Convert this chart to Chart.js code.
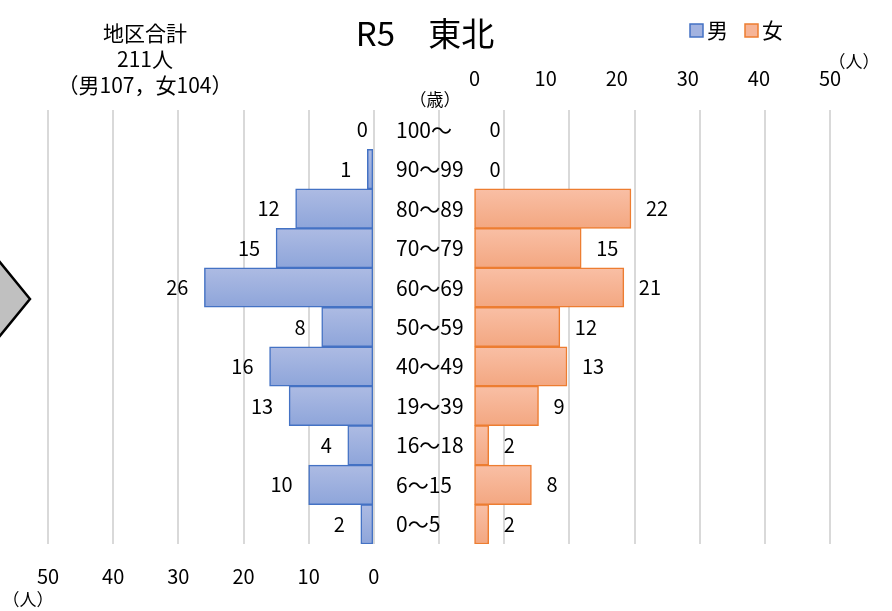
<!DOCTYPE html>
<html>
<head>
<meta charset="utf-8">
<script src="https://cdn.jsdelivr.net/npm/chart.js@4/dist/chart.umd.min.js"></script>
<style>
  html, body { margin: 0; padding: 0; background: #fff; }
  #wrap { width: 892px; height: 611px; }
</style>
</head>
<body>
<div id="wrap"><canvas id="pyramid" width="892" height="611"></canvas></div>
<script>
// age groups, top to bottom
const ageGroups = ["100～", "90～99", "80～89", "70～79", "60～69", "50～59", "40～49", "19～39", "16～18", "6～15", "0～5"];
const male   = [0, 1, 12, 15, 26, 8, 16, 13, 4, 10, 2];
const female = [0, 0, 22, 15, 21, 12, 13, 9, 2, 8, 2];
const axisTicks = [0, 10, 20, 30, 40, 50];

const FONT = "'Noto Sans CJK JP', 'Noto Sans', sans-serif";

// vertical gradient inside each bar
function barGradient(top, bottom) {
  return (c) => {
    const chart = c.chart;
    const y = chart.scales.y;
    if (!y || c.dataIndex === undefined) return top;
    const mid = y.getPixelForValue(c.dataIndex);
    const half = y.height / ageGroups.length / 2;
    if (!isFinite(mid) || !isFinite(half) || half <= 0) return top;
    const g = chart.ctx.createLinearGradient(0, mid - half, 0, mid + half);
    g.addColorStop(0, top);
    g.addColorStop(1, bottom);
    return g;
  };
}

// ===============================
// texts, legend, labels
// ===============================
const decorations = {
  id: "decorations",
  afterDatasetsDraw(chart) {
    const ctx = chart.ctx;
    const y = chart.scales.y;
    ctx.save();
    ctx.fillStyle = "#000";
    ctx.textBaseline = "middle";

    // category labels in the middle
    ctx.font = "21px " + FONT;
    ctx.textAlign = "left";
    ageGroups.forEach((g, i) => ctx.fillText(g, 396, y.getPixelForValue(i)));

    // value labels
    ctx.font = "20px " + FONT;
    chart.getDatasetMeta(0).data.forEach((bar, i) => {
      ctx.textAlign = "right";
      ctx.fillText(String(male[i]), bar.x - (male[i] > 0 ? 16 : 6), bar.y);
    });
    chart.getDatasetMeta(1).data.forEach((bar, i) => {
      ctx.textAlign = "left";
      ctx.fillText(String(female[i]), bar.x + 15, bar.y);
    });
    ctx.restore();
  },
  afterDraw(chart) {
    const ctx = chart.ctx;
    ctx.save();
    ctx.fillStyle = "#000";
    ctx.textBaseline = "middle";
    ctx.textAlign = "center";

    // title
    ctx.font = "33px " + FONT;
    ctx.fillText("R5　東北", 425, 33);

    // totals
    ctx.font = "21px " + FONT;
    ctx.fillText("地区合計", 145, 33);
    ctx.fillText("211人", 145, 59);
    ctx.fillText("（男107，女104）", 145, 85);

    // units
    ctx.font = "17px " + FONT;
    ctx.fillText("（歳）", 435, 100);
    ctx.fillText("（人）", 854, 62);
    ctx.fillText("（人）", 28, 600);

    // legend
    const items = [["男", "#a3b3e0", "#4472c4", 690], ["女", "#f6b497", "#ed7d31", 745]];
    ctx.font = "21px " + FONT;
    ctx.textAlign = "left";
    items.forEach(([name, fill, line, x]) => {
      ctx.fillStyle = fill;
      ctx.strokeStyle = line;
      ctx.lineWidth = 1.5;
      ctx.fillRect(x, 24, 13, 13);
      ctx.strokeRect(x, 24, 13, 13);
      ctx.fillStyle = "#000";
      ctx.fillText(name, x + 17, 30);
    });

    // gray pointer shape cut by the left edge
    ctx.beginPath();
    ctx.moveTo(30, 299);
    ctx.lineTo(-6, 255);
    ctx.lineTo(-42, 299);
    ctx.lineTo(-6, 343);
    ctx.closePath();
    ctx.fillStyle = "#c0c0c0";
    ctx.fill();
    ctx.strokeStyle = "#000";
    ctx.lineWidth = 2.5;
    ctx.stroke();
    ctx.restore();
  }
};

const tickLabel = (v) => (axisTicks.includes(v) ? String(v) : "");

new Chart(document.getElementById("pyramid"), {
  type: "bar",
  data: {
    labels: ageGroups,
    datasets: [
      {
        label: "男",
        data: male,
        xAxisID: "xMale",
        backgroundColor: barGradient("#adbbe3", "#8ea5da"),
        borderColor: "#4472c4",
        borderWidth: 1.5,
        borderSkipped: false,
        grouped: false,
        barPercentage: 1,
        categoryPercentage: 1
      },
      {
        label: "女",
        data: female,
        xAxisID: "xFemale",
        backgroundColor: barGradient("#f9bfa5", "#f3a781"),
        borderColor: "#ed7d31",
        borderWidth: 1.5,
        borderSkipped: false,
        grouped: false,
        barPercentage: 1,
        categoryPercentage: 1
      }
    ]
  },
  options: {
    indexAxis: "y",
    responsive: false,
    animation: false,
    layout: { padding: { left: 48, right: 62, top: 46, bottom: 3 } },
    plugins: { legend: { display: false }, tooltip: { enabled: false } },
    scales: {
      y: { type: "category", display: false, offset: true },
      xMale: {
        type: "linear",
        position: "bottom",
        reverse: true,
        min: -70,
        max: 50,
        afterBuildTicks: (s) => { s.ticks = []; for (let v = -70; v <= 50; v += 10) s.ticks.push({ value: v }); },
        grid: { color: "#d9d9d9", lineWidth: 2, drawTicks: false },
        border: { display: false },
        ticks: { color: "#000", font: { size: 20, family: FONT }, padding: 20, maxRotation: 0, callback: tickLabel }
      },
      xFemale: {
        type: "linear",
        position: "top",
        min: -60,
        max: 50,
        afterBuildTicks: (s) => { s.ticks = []; for (let v = -60; v <= 50; v += 10) s.ticks.push({ value: v }); },
        grid: { display: false, drawTicks: false },
        border: { display: false },
        ticks: { color: "#000", font: { size: 20, family: FONT }, padding: 20, maxRotation: 0, callback: tickLabel }
      }
    }
  },
  plugins: [decorations]
});
</script>
</body>
</html>
